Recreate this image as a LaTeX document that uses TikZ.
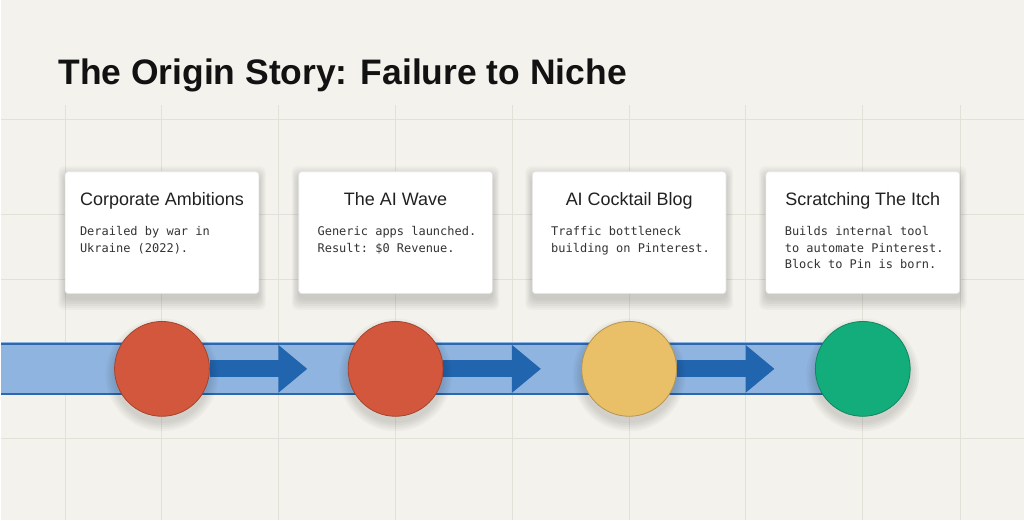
\documentclass[tikz,border=0pt]{standalone}
\usepackage{fontspec}
\setmainfont{Liberation Sans}
\setmonofont{DejaVu Sans Mono}
\usetikzlibrary{arrows.meta,backgrounds,positioning}

\definecolor{paper}{HTML}{F4F2EC}
\definecolor{gridline}{HTML}{E3E0D8}
\definecolor{bandfill}{HTML}{8FB4DF}
\definecolor{bandedge}{HTML}{2D67AE}
\definecolor{arrowblue}{HTML}{2265AF}
\definecolor{stepred}{HTML}{D2573C}
\definecolor{stepyellow}{HTML}{E9BF68}
\definecolor{stepgreen}{HTML}{13AD7C}

\tikzset{
  card/.style={draw=black!10, line width=0.6pt, fill=white, rounded corners=3pt,
    minimum width=194pt, minimum height=122pt, inner sep=0pt},
  cardtitle/.style={font=\fontsize{18}{22}\selectfont, text=black!87, anchor=base, inner sep=0pt},
  cardbody/.style={font=\ttfamily\fontsize{12}{16.5}\selectfont, text=black!80,
    anchor=north west, inner sep=0pt, align=left},
  milestone/.style={circle, minimum size=95pt, inner sep=0pt, line width=0.8pt},
  softshade/.style={black, opacity=0.028},
  flow/.style={arrowblue, line width=17pt, shorten >=40.5pt, -{Triangle[length=29pt, width=46pt]}},
}

\begin{document}
\begin{tikzpicture}[x=1pt, y=-1pt]
  % Title
  \node[anchor=base west, inner sep=0pt, text=black!93,
    font=\bfseries\fontsize{35.5}{40}\selectfont] (title) at (57,85)
    {The Origin Story: Failure to Niche};

  % Milestones
  \foreach \i/\x/\col in {1/161/stepred, 2/395/stepred, 3/629/stepyellow, 4/863/stepgreen}
    \node[milestone, fill=\col, draw=\col!78!black] (m\i) at (\x,369.5) {};

  % Cards
  \foreach \i/\x/\pad/\head/\body in {
      1/161/15/{Corporate Ambitions}/{Derailed by war in\\Ukraine (2022).},
      2/395/19/{The AI Wave}/{Generic apps launched.\\Result: \$0 Revenue.},
      3/629/19/{AI Cocktail Blog}/{Traffic bottleneck\\building on Pinterest.},
      4/863/19/{Scratching The Itch}/{Builds internal tool\\to automate Pinterest.\\Block to Pin is born.}} {
    \node[card] (card\i) at (\x,233) {};
    \node[cardtitle] (head\i) at (\x,205.5) {\head};
    \node[cardbody] (body\i) at ([xshift=\pad pt, yshift=-55pt]card\i.north west) {\body};
  }

  \begin{scope}[on background layer]
    % Paper and grid
    \fill[paper] (0,0) rectangle (1024,521);
    \foreach \y in {120,215,280,439}
      \draw[gridline, line width=1pt] (0,\y) -- (1024,\y);
    \foreach \x in {64,161,278,395,512,629,746,863,961}
      \draw[gridline, line width=1pt] (\x,105) -- (\x,521);

    % Timeline band
    \fill[bandfill] (0,343) rectangle (m4.center |- 0,396);
    \draw[bandedge, line width=2.5pt] (0,344.5) -- (863,344.5) (0,394.5) -- (863,394.5);

    % Arrows between milestones
    \foreach \a/\b in {1/2, 2/3, 3/4}
      \draw[flow] (m\a) -- (m\b);

    % Soft shadows
    \foreach \i in {1,...,4} {
      \foreach \s in {1,3,5,7,9,11}
        \fill[softshade, rounded corners=6pt]
          ([xshift={-0.6*\s}, yshift={-6+\s}]card\i.north west)
          rectangle ([xshift={0.6*\s}, yshift={-5-\s}]card\i.south east);
      \foreach \s in {1,3,5,7,9}
        \fill[softshade] ([yshift=-6pt]m\i.center) circle ({47.5+\s});
    }
  \end{scope}
\end{tikzpicture}
\end{document}
